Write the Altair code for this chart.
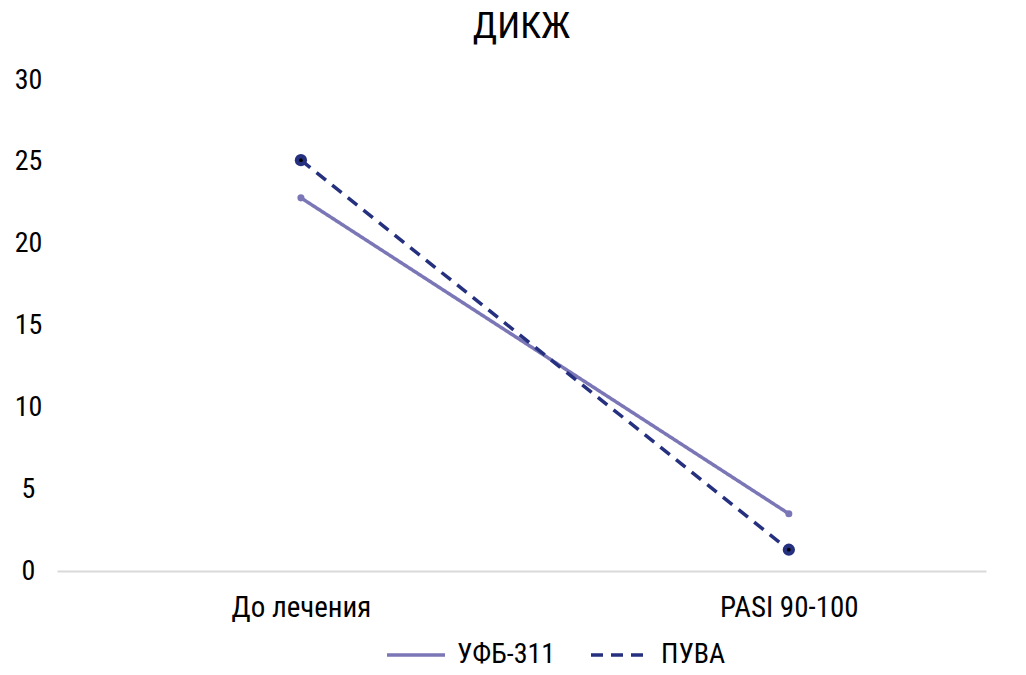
import altair as alt
import pandas as pd

categories = ["До лечения", "PASI 90-100"]
series_names = ["УФБ-311", "ПУВА"]
ufb_values = [22.8, 3.5]
puva_values = [25.1, 1.3]
y_ticks = [0, 5, 10, 15, 20, 25, 30]

rows = []
for c, v in zip(categories, ufb_values):
    rows.append({"cat": c, "series": series_names[0], "value": v})
for c, v in zip(categories, puva_values):
    rows.append({"cat": c, "series": series_names[1], "value": v})
df = pd.DataFrame(rows)

FONT = "Roboto Condensed, Liberation Sans Narrow, DejaVu Sans Condensed, Roboto, sans-serif"
colors = ["#7b77b7", "#25307f"]

x = alt.X("cat:N", sort=categories, title=None,
          scale=alt.Scale(type="point", padding=0.452, align=0.553),
          axis=alt.Axis(labelAngle=0, labelFontSize=29, labelFont=FONT, labelColor="#000000",
                        ticks=False, domainColor="#d9d9d9", domainWidth=2,
                        labelPadding=22, grid=False))
y = alt.Y("value:Q", title=None,
          scale=alt.Scale(domain=[0, 30], nice=False),
          axis=alt.Axis(values=y_ticks, labelFontSize=28, labelFont=FONT, labelColor="#000000",
                        ticks=False, domain=False, grid=False, labelAlign="center",
                        labelPadding=29))

color = alt.Color("series:N", sort=series_names,
                  scale=alt.Scale(domain=series_names, range=colors),
                  legend=alt.Legend(title=None, orient="none", direction="horizontal",
                                    legendX=328, legendY=544,
                                    labelFontSize=28, labelFont=FONT, labelColor="#000000",
                                    symbolType="stroke", symbolSize=3364, symbolStrokeWidth=3.5,
                                    columnPadding=28, labelOffset=10))
dash = alt.StrokeDash("series:N", sort=series_names,
                      scale=alt.Scale(domain=series_names, range=[[1, 0], [12, 8]]),
                      legend=None)

base = alt.Chart(df)
lines = base.mark_line(strokeWidth=3.5).encode(x=x, y=y, color=color, strokeDash=dash)
pts_ufb = base.transform_filter(alt.datum.series == series_names[0]).mark_circle(
    size=50, opacity=1, color=colors[0]).encode(x=x, y=y)
pts_puva = base.transform_filter(alt.datum.series == series_names[1]).mark_circle(
    size=150, opacity=1, color=colors[1]).encode(x=x, y=y)
pts_dot = base.transform_filter(alt.datum.series == series_names[1]).mark_circle(
    size=14, opacity=1, color="#000000").encode(x=x, y=y)

chart = alt.layer(lines, pts_ufb, pts_puva, pts_dot).properties(
    width=929, height=491,
    background="#ffffff",
    title=alt.Title("ДИКЖ", fontSize=37, font=FONT, fontWeight="normal", color="#000000",
                    anchor="middle", offset=20),
    autosize=alt.AutoSizeParams(type="none"),
    padding={"left": 49, "top": 72, "right": 20, "bottom": 104},
).configure_view(strokeWidth=0, stroke="transparent")

chart.save("out.html", embed_options={"renderer": "svg", "actions": False})
